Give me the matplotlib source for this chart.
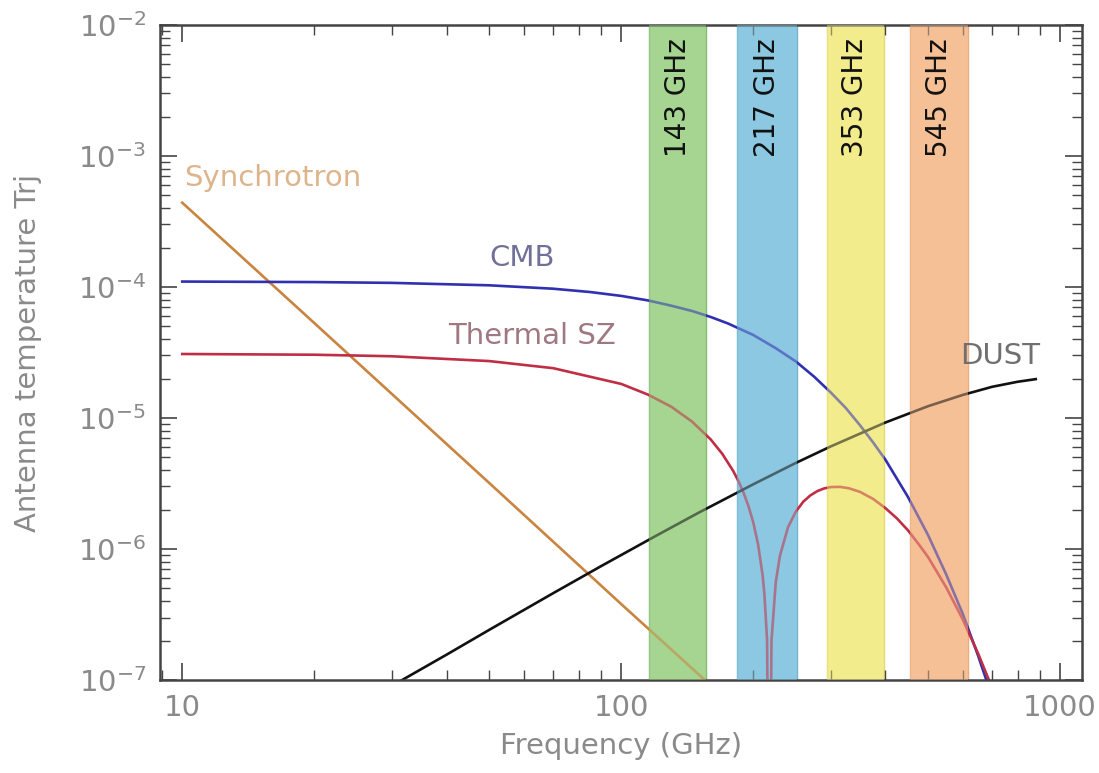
import matplotlib
matplotlib.use("Agg")
import matplotlib.pyplot as plt
import numpy as np

# foreground spectra (GHz, antenna temperature)
nu_sync = [10, 20, 50, 100, 160]
t_sync = [4.4e-4, 5.3e-5, 3.2e-6, 3.8e-7, 9.1e-8]

nu_cmb = [10, 20, 30, 50, 70, 85, 100, 115, 130, 145, 160, 175, 200, 225,
          250, 275, 300, 325, 350, 375, 400, 450, 500, 550, 600, 650, 700]
t_cmb = [1.10e-4, 1.09e-4, 1.075e-4, 1.03e-4, 9.7e-5, 9.15e-5, 8.55e-5,
         7.9e-5, 7.2e-5, 6.56e-5, 5.9e-5, 5.27e-5, 4.3e-5, 3.41e-5, 2.7e-5,
         2.07e-5, 1.57e-5, 1.19e-5, 8.8e-6, 6.5e-6, 4.8e-6, 2.5e-6, 1.28e-6,
         6.4e-7, 3.2e-7, 1.54e-7, 7.4e-8]

nu_sz = [10, 20, 30, 50, 70, 100, 115, 130, 145, 160, 170, 180, 185, 190,
         195, 200, 205, 210, 212, 215, 217.5, 220, 225, 230, 240, 250, 260,
         270, 280, 290, 300, 315, 330, 350, 375, 400, 425, 450, 475, 500,
         550, 600, 650, 700]
t_sz = [3.08e-5, 3.04e-5, 2.96e-5, 2.72e-5, 2.40e-5, 1.82e-5, 1.51e-5,
        1.22e-5, 9.39e-6, 6.85e-6, 5.32e-6, 3.94e-6, 3.29e-6, 2.69e-6,
        2.12e-6, 1.59e-6, 1.09e-6, 6.3e-7, 4.5e-7, 2.0e-7, 1e-9, 2.0e-7,
        5.6e-7, 8.9e-7, 1.47e-6, 1.93e-6, 2.30e-6, 2.57e-6, 2.77e-6,
        2.90e-6, 2.97e-6, 2.98e-6, 2.91e-6, 2.73e-6, 2.41e-6, 2.05e-6,
        1.71e-6, 1.39e-6, 1.10e-6, 8.7e-7, 5.1e-7, 2.9e-7, 1.6e-7, 8.7e-8]

nu_dust = [30, 40, 50, 70, 90, 120, 150, 200, 250, 300, 400, 500, 600,
           700, 800, 880]
t_dust = [9.0e-8, 1.56e-7, 2.41e-7, 4.6e-7, 7.4e-7, 1.26e-6, 1.89e-6,
          3.12e-6, 4.54e-6, 6.06e-6, 9.24e-6, 1.23e-5, 1.50e-5, 1.73e-5,
          1.89e-5, 1.98e-5]

# Planck channels
band_labels = ['143 GHz', '217 GHz', '353 GHz', '545 GHz']
band_lo = [116, 184, 294, 456]
band_hi = [156, 252, 396, 618]
band_colors = ['#A5D591', '#8CC8E1', '#F3EC8C', '#F6C096']
band_edges = ['#86BC72', '#74B4D0', '#E4DB70', '#E8AC80']

xticks = [10, 100, 1000]
xtick_labels = ['10', '100', '1000']
yticks = [1e-7, 1e-6, 1e-5, 1e-4, 1e-3, 1e-2]
ytick_labels = ['$10^{-7}$', '$10^{-6}$', '$10^{-5}$', '$10^{-4}$',
                '$10^{-3}$', '$10^{-2}$']

plt.rcParams['font.family'] = ['DejaVu Sans']
plt.rcParams['mathtext.default'] = 'regular'

fig = plt.figure(figsize=(10.99, 7.73), dpi=100)
ax = fig.add_axes([0.1456, 0.1203, 0.839, 0.8474])
ax.set_xscale('log')
ax.set_yscale('log')
ax.set_xlim(8.9, 1122)
ax.set_ylim(1e-7, 1e-2)

ax.plot(nu_sync, t_sync, color='#C9843F', lw=1.9, zorder=2)
ax.plot(nu_cmb, t_cmb, color='#3030B0', lw=1.9, zorder=2)
ax.plot(nu_sz, t_sz, color='#C02E45', lw=1.9, zorder=2)
ax.plot(nu_dust, t_dust, color='#111111', lw=1.9, zorder=2)

for lab, lo, hi, c, ec in zip(band_labels, band_lo, band_hi, band_colors,
                              band_edges):
    # solid band under the curves, tinted veil over them
    ax.axvspan(lo, hi, facecolor=c, edgecolor=ec, lw=1.0, zorder=1)
    ax.axvspan(lo, hi, facecolor=c, edgecolor='none', alpha=0.45, zorder=3)
    ax.text(np.sqrt(lo * hi), 2.8e-3, lab, rotation=90, ha='center',
            va='center', fontsize=20, color='#111111', zorder=4)

ax.text(10.1, 6.8e-4, 'Synchrotron', fontsize=21, color='#DDB48C',
        ha='left', va='center')
ax.text(50, 1.66e-4, 'CMB', fontsize=21, color='#707098',
        ha='left', va='center')
ax.text(40.3, 4.2e-5, 'Thermal SZ', fontsize=21, color='#A07882',
        ha='left', va='center')
ax.text(900, 2.97e-5, 'DUST', fontsize=21, color='#707070',
        ha='right', va='center')

ax.set_xticks(xticks)
ax.set_xticklabels(xtick_labels)
ax.set_yticks(yticks)
ax.set_yticklabels(ytick_labels)
ax.tick_params(which='both', direction='in', top=True, right=True,
               color='#444444', labelcolor='#8A8A8A', labelsize=21)
ax.tick_params(which='major', length=12, width=1.2, pad=10)
ax.tick_params(which='minor', length=7, width=1.0)
for s in ax.spines.values():
    s.set_color('#444444')
    s.set_linewidth(1.8)

ax.set_xlabel('Frequency (GHz)', fontsize=21, color='#8A8A8A')
ax.set_ylabel('Antenna temperature Trj', fontsize=21, color='#8A8A8A')
ax.xaxis.set_label_coords(0.5, -0.08)
ax.yaxis.set_label_coords(-0.128, 0.5)

fig.savefig('out.png', dpi=100)
